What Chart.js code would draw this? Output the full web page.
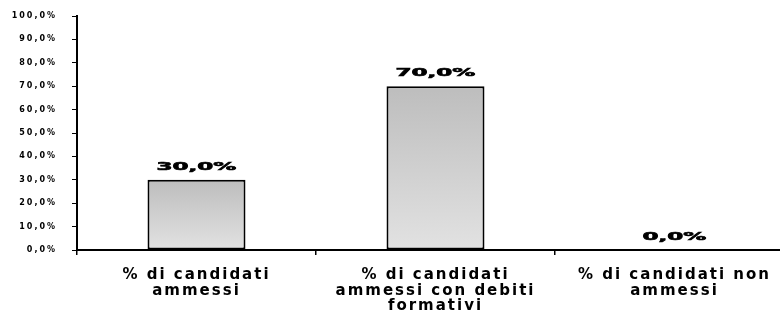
<!DOCTYPE html>
<html>
<head>
<meta charset="utf-8">
<script src="https://cdn.jsdelivr.net/npm/chart.js@4/dist/chart.umd.min.js"></script>
<style>
  html, body { margin: 0; padding: 0; background: #ffffff; overflow: hidden; }
  #wrap { width: 796px; height: 317px; }
</style>
</head>
<body>
<div id="wrap"><canvas id="c" width="796" height="317"></canvas></div>
<script>
const categories = [
  ['% di candidati', 'ammessi'],
  ['% di candidati', 'ammessi con debiti', 'formativi'],
  ['% di candidati non', 'ammessi']
];
const values = [30, 70, 0];
const yMin = 0;
const yMax = 100;
const yStep = 10;

const fmt = v => v.toFixed(1).replace('.', ',') + '%';

const spacingPlugin = {
  id: 'spacing',
  beforeUpdate(chart) { chart.ctx.letterSpacing = '2px'; },
  beforeDraw(chart) { chart.ctx.letterSpacing = '2px'; }
};

const labelPlugin = {
  id: 'barLabels',
  afterDatasetsDraw(chart) {
    const ctx = chart.ctx;
    const meta = chart.getDatasetMeta(0);
    meta.data.forEach((el, i) => {
      ctx.save();
      ctx.letterSpacing = '0px';
      ctx.font = 'bold 10px "DejaVu Sans"';
      ctx.fillStyle = '#000000';
      ctx.strokeStyle = '#000000';
      ctx.lineWidth = 0.6;
      ctx.textAlign = 'center';
      ctx.textBaseline = 'alphabetic';
      ctx.translate(el.x, el.y - 10);
      ctx.scale(2.3, 1);
      ctx.fillText(fmt(values[i]), 0, 0);
      ctx.strokeText(fmt(values[i]), 0, 0);
      ctx.restore();
    });
  }
};

function barGradient(context) {
  const chart = context.chart;
  const ys = chart.scales.y;
  if (!ys || !chart.chartArea) return '#d0d0d0';
  const v = context.raw;
  const top = ys.getPixelForValue(v);
  const base = ys.getPixelForValue(0);
  if (!isFinite(top) || !isFinite(base) || top === base) return '#d0d0d0';
  const g = chart.ctx.createLinearGradient(0, top, 0, base);
  g.addColorStop(0, '#bdbdbd');
  g.addColorStop(1, '#e2e2e2');
  return g;
}

new Chart(document.getElementById('c'), {
  type: 'bar',
  data: {
    labels: categories,
    datasets: [{
      data: values,
      backgroundColor: barGradient,
      borderColor: '#000000',
      borderWidth: 2,
      borderSkipped: false,
      categoryPercentage: 1,
      barPercentage: 0.41
    }]
  },
  options: {
    responsive: false,
    animation: false,
    events: [],
    layout: { padding: { top: 16, right: 2, left: 0, bottom: 0 } },
    plugins: { legend: { display: false }, tooltip: { enabled: false } },
    scales: {
      x: {
        grid: { display: true, drawOnChartArea: false, offset: true, tickLength: 5, color: '#000000', lineWidth: 1.5 },
        border: { display: true, color: '#000000', width: 2 },
        ticks: {
          color: '#000000',
          font: { family: '"DejaVu Sans"', size: 15, weight: 'bold', lineHeight: 1.05 },
          padding: 12,
          maxRotation: 0,
          autoSkip: false
        },
        afterFit(scale) { scale.height = 67; }
      },
      y: {
        min: yMin,
        max: yMax,
        grid: { display: true, drawOnChartArea: false, tickLength: 5, color: '#000000', lineWidth: 1 },
        border: { display: true, color: '#000000', width: 2 },
        ticks: {
          stepSize: yStep,
          color: '#000000',
          font: { family: '"DejaVu Sans"', size: 8, weight: 'bold' },
          padding: 15,
          callback: v => fmt(v)
        },
        afterFit(scale) { scale.width = 77; scale.paddingTop = 0; scale.paddingBottom = 0; }
      }
    }
  },
  plugins: [spacingPlugin, labelPlugin]
});
</script>
</body>
</html>
